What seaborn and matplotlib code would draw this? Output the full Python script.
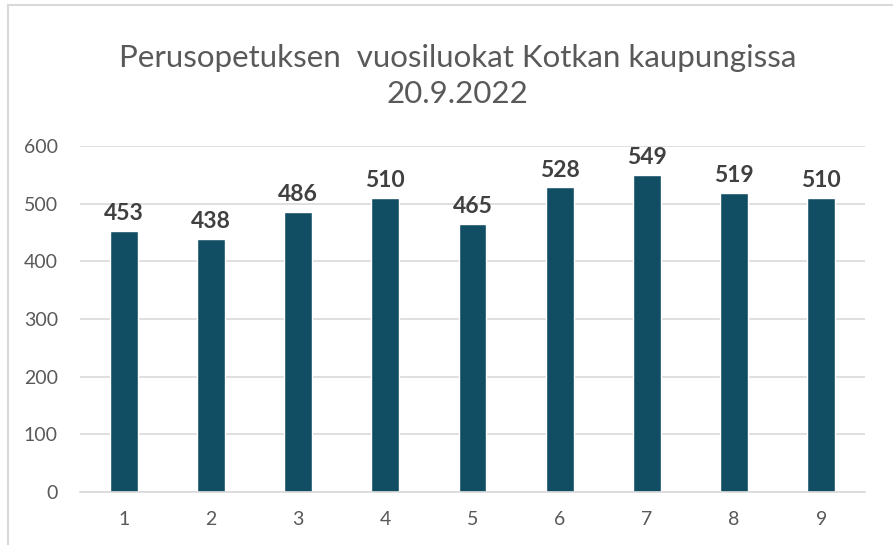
import matplotlib
matplotlib.use("Agg")
import matplotlib.pyplot as plt
import seaborn as sns
import pandas as pd
from matplotlib.patches import Rectangle

grades = ["1", "2", "3", "4", "5", "6", "7", "8", "9"]
pupils = [453, 438, 486, 510, 465, 528, 549, 519, 510]
yticks = [0, 100, 200, 300, 400, 500, 600]

title = "Perusopetuksen  vuosiluokat Kotkan kaupungissa\n20.9.2022"
bar_color = "#124E63"
text_grey = "#595959"


def main():
    sns.set_style("white")
    plt.rcParams["font.family"] = ["Lato", "DejaVu Sans"]

    df = pd.DataFrame({"grade": grades, "pupils": pupils})

    fig = plt.figure(figsize=(8.93, 5.45), dpi=100)
    ax = fig.add_axes([0.0896, 0.0972, 0.879, 0.635])

    sns.barplot(data=df, x="grade", y="pupils", color=bar_color,
                saturation=1, width=0.32, ax=ax)

    ax.set_xlim(-0.5, len(grades) - 0.5)
    ax.set_ylim(0, 600)
    ax.set_yticks(yticks)
    ax.yaxis.grid(True, color="#D9D9D9", linewidth=1.2)
    ax.set_axisbelow(True)
    for side in ["top", "right", "left"]:
        ax.spines[side].set_visible(False)
    ax.spines["bottom"].set_color("#D9D9D9")
    ax.spines["bottom"].set_linewidth(1.2)
    ax.tick_params(axis="x", length=0, labelsize=14, colors=text_grey, pad=14)
    ax.tick_params(axis="y", length=0, labelsize=14, colors=text_grey, pad=16)
    ax.set_xlabel("")
    ax.set_ylabel("")

    for cont in ax.containers:
        ax.bar_label(cont, padding=5, fontsize=16.5, fontweight="bold", color="#404040")

    fig.text(0.512, 0.861, title, ha="center", va="center", fontsize=22.5,
             color=text_grey, linespacing=1.35)

    # chart border like the office frame
    fig.patches.append(Rectangle((0.009, -0.01), 1.2, 1.0, transform=fig.transFigure,
                                 fill=False, edgecolor="#D9D9D9", linewidth=1.5))

    fig.savefig("out.png", dpi=100)
    plt.close(fig)


if __name__ == "__main__":
    main()
